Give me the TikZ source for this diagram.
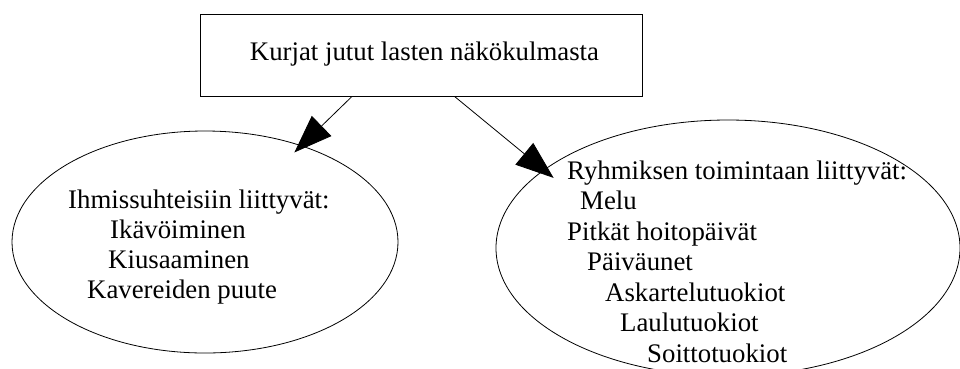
\documentclass[tikz,border=0pt]{standalone}
\usepackage{fontspec}
\setmainfont{Liberation Serif}
\usetikzlibrary{arrows.meta,shapes.geometric}
\begin{document}
\begin{tikzpicture}[x=1pt, y=-1pt, font=\fontsize{26.8}{30}\selectfont, >={Triangle[length=38pt, width=28pt]},
      box/.style={draw, line width=1pt, minimum width=442pt, minimum height=82pt, inner sep=0pt},
      oval/.style={draw, ellipse, line width=0.8pt, inner sep=0pt},
      lines/.style={align=left, inner sep=0pt, anchor=base west}]
    \useasboundingbox (0,0) rectangle (960,368);
    \node[box] (top) at (421,55) {};
    \node[anchor=base] (toptxt) at (424.5,60) {Kurjat jutut lasten näkökulmasta};
    \node[oval, minimum width=386pt, minimum height=222pt] (ihm) at (205,242) {};
    \node[oval, minimum width=464pt, minimum height=256pt] (ryh) at (728,248) {};
    % the base of a node with several lines is its last line
    \node[lines] (ihmtxt) at (68,298) {Ihmissuhteisiin liittyvät:\\
      \hspace*{42pt}Ikävöiminen\\
      \hspace*{40pt}Kiusaaminen\\
      \hspace*{19pt}Kavereiden puute};
    \node[lines, font=\fontsize{26.8}{30.5}\selectfont] (ryhtxt) at (567,362) {Ryhmiksen toimintaan liittyvät:\\
      \hspace*{13pt}Melu\\
      Pitkät hoitopäivät\\
      \hspace*{20pt}Päiväunet\\
      \hspace*{38pt}Askartelutuokiot\\
      \hspace*{53pt}Laulutuokiot\\
      \hspace*{80pt}Soittotuokiot};
    \draw[->, line width=0.8pt, shorten >=-10pt] (top.211.1) -- (ihm.45);
    \draw[->, line width=0.8pt, shorten >=-12.8pt] (top.309.7) -- (ryh.157.6);
  \end{tikzpicture}
\end{document}
